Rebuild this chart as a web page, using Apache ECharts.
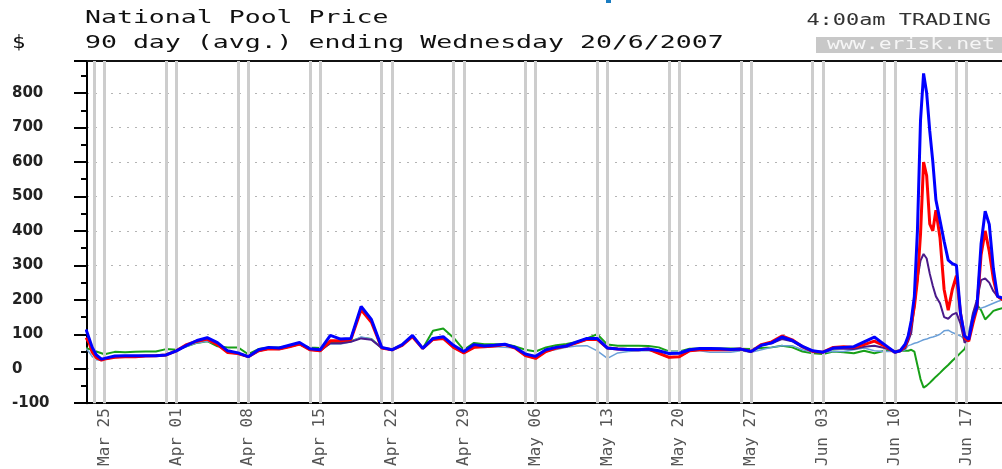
<!DOCTYPE html>
<html><head><meta charset="utf-8">
<script src="https://cdn.jsdelivr.net/npm/echarts@6/dist/echarts.min.js"></script>
<style>html,body{margin:0;padding:0;background:#fff}#c{width:1002px;height:469px}</style>
</head><body><div id="c"></div>
<script>
// x = days after Sunday 25 March 2007 (4:00am trading interval readings)
const days = [
-1.8, -1.5, -1.2, -0.8, -0.3,
0, 1, 2, 3, 4, 5, 6, 7, 8, 9,
10, 11, 12, 13, 14, 15, 16, 17, 18, 19,
20, 21, 22, 23, 24, 25, 26, 27, 28, 29,
30, 31, 32, 33, 34, 35, 36, 37, 38, 39,
40, 41, 42, 43, 44, 45, 46, 47, 48, 49,
50, 51, 52, 53, 54, 55, 56, 57, 58, 59,
60, 61, 62, 63, 64, 65, 66, 67, 68, 69,
70, 71, 72, 73, 74, 75, 76, 77,
77.5, 78, 78.3, 78.6, 78.9, 79.2, 79.5, 79.8, 80.1, 80.4, 80.7, 81, 81.4, 81.8, 82.2, 82.6, 83, 83.4, 83.8, 84.2, 84.6, 85, 85.4, 85.8, 86.2, 86.6, 87, 87.5
];
const bluePrice = [
114, 88, 62, 40, 28,
30, 37, 38, 38, 38, 38, 40, 52, 68, 82,
90, 76, 52, 46, 35, 55, 62, 60, 68, 76,
58, 55, 97, 86, 88, 181, 143, 62, 55, 70,
97, 59, 88, 93, 68, 50, 70, 66, 68, 71,
62, 43, 36, 55, 62, 66, 78, 88, 88, 60,
57, 56, 55, 57, 52, 44, 45, 55, 59, 59,
58, 56, 57, 50, 68, 75, 92, 82, 65, 52,
48, 60, 62, 64, 78, 92, 70, 48,
52, 71, 95, 140, 210, 400, 720, 857, 800, 690, 600, 490, 430, 370, 315, 305, 300, 160, 95, 85, 145, 180, 362, 457, 419, 290, 210, 205
];
const redPrice = [
90, 75, 48, 32, 25,
28, 33, 35, 35, 37, 38, 40, 52, 70, 80,
86, 70, 47, 44, 35, 52, 58, 57, 64, 72,
55, 52, 81, 81, 85, 171, 135, 60, 55, 68,
93, 59, 85, 88, 62, 46, 62, 64, 66, 70,
60, 38, 30, 50, 60, 66, 75, 85, 85, 60,
57, 56, 55, 57, 45, 33, 35, 52, 55, 55,
55, 55, 57, 50, 70, 78, 95, 84, 64, 50,
48, 62, 64, 62, 70, 80, 66, 48,
52, 65, 90, 130, 180, 257, 390, 600, 560, 420, 400, 460, 380, 230, 170, 230, 270, 160, 90, 80, 130, 175, 330, 400, 340, 260, 210, 200
];
const purplePrice = [
90, 75, 48, 32, 25,
28, 33, 35, 35, 37, 38, 40, 52, 68, 80,
86, 70, 47, 44, 35, 52, 58, 57, 64, 72,
55, 52, 74, 74, 78, 88, 84, 60, 55, 68,
93, 59, 85, 88, 62, 46, 62, 64, 66, 70,
60, 38, 30, 50, 60, 66, 75, 85, 85, 60,
57, 56, 55, 57, 45, 33, 35, 52, 55, 55,
55, 55, 57, 50, 68, 74, 86, 80, 62, 50,
48, 58, 58, 57, 64, 67, 60, 50,
50, 60, 80, 105, 180, 260, 314, 333, 320, 276, 240, 210, 190, 150, 145, 157, 162, 130, 75, 90, 160, 200, 257, 262, 250, 225, 210, 200
];
const lightBluePrice = [
58, 48, 35, 26, 24,
30, 35, 37, 37, 37, 37, 40, 52, 65, 75,
80, 72, 50, 44, 33, 50, 57, 56, 64, 70,
55, 55, 72, 72, 78, 92, 86, 60, 55, 68,
95, 59, 86, 88, 64, 48, 65, 64, 64, 62,
60, 40, 38, 50, 56, 62, 66, 67, 52, 30,
46, 50, 52, 52, 50, 50, 50, 52, 52, 48,
48, 48, 52, 48, 55, 62, 67, 67, 55, 48,
48, 50, 50, 55, 60, 52, 50, 50,
50, 55, 67, 70, 74, 76, 80, 84, 86, 90, 92, 95, 100, 110, 112, 105, 100, 95, 86, 110, 160, 172, 176, 180, 185, 190, 195, 200
];
const greenPrice = [
60, 57, 55, 50, 45,
42, 49, 48, 49, 50, 50, 57, 55, 65, 75,
80, 65, 62, 62, 42, 57, 62, 62, 66, 70,
62, 60, 76, 76, 80, 90, 86, 60, 55, 70,
95, 59, 110, 117, 90, 55, 75, 71, 71, 71,
65, 55, 50, 62, 68, 72, 78, 88, 100, 70,
67, 67, 67, 66, 62, 50, 50, 58, 59, 59,
59, 59, 58, 57, 60, 62, 67, 62, 50, 45,
43, 50, 48, 45, 52, 45, 52, 52,
52, 52, 52, 55, 50, 10, -30, -55, -49, -41, -32, -23, -12, 0, 11, 23, 34, 46, 57, 90, 150, 185, 170, 143, 155, 168, 172, 176
];
const labelDays = [0, 7, 14, 21, 28, 35, 42, 49, 56, 63, 70, 77, 84];
const labelText = ['Mar 25','Apr 01','Apr 08','Apr 15','Apr 22','Apr 29','May 06','May 13','May 20','May 27','Jun 03','Jun 10','Jun 17'];
const saturdays = [-1, 6, 13, 20, 27, 34, 41, 48, 55, 62, 69, 76, 83];
const sundays = [0, 7, 14, 21, 28, 35, 42, 49, 56, 63, 70, 77, 84];
const xMin = -1.71, xMax = 87.44;
const yMin = -100, yMax = 893, yStep = 100;

[['blue',bluePrice],['red',redPrice],['purple',purplePrice],['lightBlue',lightBluePrice],['green',greenPrice]].forEach(([n,a])=>{
  if (a.length !== days.length) throw new Error(n + ' length ' + a.length + ' vs ' + days.length);
});

function mkLine(name, vals, color, width, z) {
  return {
    name, type: 'line', data: days.map((d, i) => [d, vals[i]]),
    symbol: 'none', showSymbol: false, z: z, silent: true, animation: false,
    lineStyle: { color: color, width: width }, itemStyle: { color: color },
    emphasis: { disabled: true }
  };
}

const chart = echarts.init(document.getElementById('c'), null, { renderer: 'canvas' });
chart.setOption({
  animation: false,
  backgroundColor: '#ffffff',
  grid: { left: 87, right: 0, top: 61, bottom: 61, containLabel: false },
  xAxis: [{
    type: 'value', min: xMin, max: xMax, position: 'bottom',
    axisLine: { onZero: false, lineStyle: { color: '#000', width: 2 } },
    axisTick: { show: false },
    splitLine: { show: false },
    axisLabel: {
      customValues: labelDays,
      rotate: 90, margin: 5,
      fontFamily: 'DejaVu Sans Mono', fontSize: 16, color: '#555',
      formatter: v => { const i = labelDays.indexOf(Math.round(v)); return i >= 0 ? labelText[i] : ''; }
    }
  }, {
    type: 'value', min: xMin, max: xMax, position: 'top',
    axisLine: { onZero: false, lineStyle: { color: '#111', width: 2 } },
    axisTick: { show: false }, axisLabel: { show: false }, splitLine: { show: false }
  }],
  yAxis: {
    type: 'value', min: yMin, max: yMax, interval: yStep,
    axisLine: { onZero: false, lineStyle: { color: '#000', width: 2 } },
    axisTick: { length: 13, lineStyle: { color: '#000', width: 2 } },
    minorTick: { show: true, splitNumber: 2, length: 6, lineStyle: { color: '#000', width: 2 } },
    splitLine: { show: true, lineStyle: { color: '#b4b4b4', width: 1, type: [2, 6] } },
    axisLabel: {
      showMaxLabel: false, align: 'left', margin: 75,
      fontFamily: 'DejaVu Sans', fontWeight: 'bold', fontSize: 15, color: '#222'
    }
  },
  series: [
    {
      type: 'line', data: [], z: 1, silent: true,
      markLine: {
        silent: true, symbol: ['none', 'none'], label: { show: false }, animation: false,
        lineStyle: { color: '#cdcdcd', width: 3, type: 'solid' },
        emphasis: { disabled: true },
        data: saturdays.concat(sundays).map(d => ({ xAxis: d }))
      }
    },
    mkLine('green', greenPrice, '#18a018', 2, 3),
    mkLine('lightBlue', lightBluePrice, '#6a9fd8', 1.5, 4),
    mkLine('purple', purplePrice, '#4a1a8a', 2, 5),
    mkLine('red', redPrice, '#ff0000', 3, 6),
    mkLine('blue', bluePrice, '#0000ff', 3, 7)
  ],
  graphic: [
    { type: 'text', x: 85, y: 19, scaleX: 1.56, style: { text: 'National Pool Price', font: '17px "DejaVu Sans Mono"', fill: '#111', textVerticalAlign: 'middle' } },
    { type: 'text', x: 85, y: 44, scaleX: 1.56, style: { text: '90 day (avg.) ending Wednesday 20/6/2007', font: '17px "DejaVu Sans Mono"', fill: '#111', textVerticalAlign: 'middle' } },
    { type: 'text', x: 12, y: 44, scaleX: 1.3, style: { text: '$', font: '17px "DejaVu Sans Mono"', fill: '#111', textVerticalAlign: 'middle' } },
    { type: 'text', x: 991, y: 21, scaleX: 1.46, style: { text: '4:00am TRADING', font: '15px "DejaVu Sans Mono"', fill: '#333', textAlign: 'right', textVerticalAlign: 'middle' } },
    { type: 'rect', shape: { x: 816, y: 37, width: 186, height: 16 }, style: { fill: '#c8c8c8' } },
    { type: 'text', x: 827, y: 45, scaleX: 1.43, style: { text: 'www.erisk.net', font: '15px "DejaVu Sans Mono"', fill: '#f6f6f6', textVerticalAlign: 'middle' } },
    { type: 'rect', shape: { x: 606, y: 0, width: 5, height: 3 }, style: { fill: '#1a7cc1' } }
  ]
});
</script></body></html>
